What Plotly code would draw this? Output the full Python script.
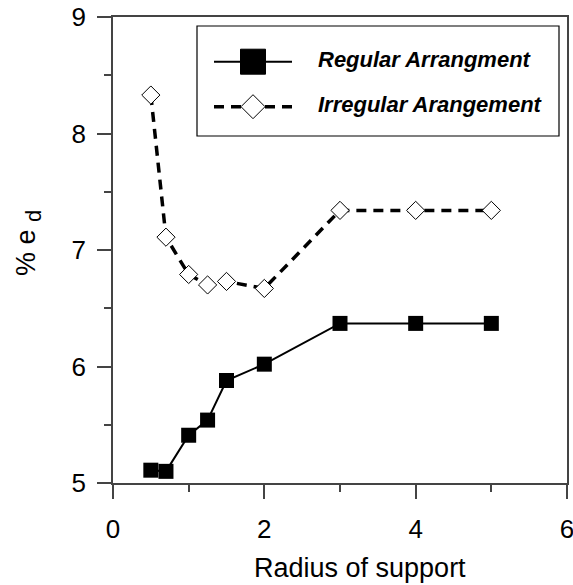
import plotly.graph_objects as go

# ---- data ----
radius_regular = [0.5, 0.7, 1.0, 1.25, 1.5, 2.0, 3.0, 4.0, 5.0]
ed_regular = [5.11, 5.10, 5.41, 5.54, 5.88, 6.02, 6.37, 6.37, 6.37]

radius_irregular = [0.5, 0.7, 1.0, 1.25, 1.5, 2.0, 3.0, 4.0, 5.0]
ed_irregular = [8.33, 7.11, 6.79, 6.70, 6.73, 6.67, 7.34, 7.34, 7.34]

series_names = ["Regular Arrangment", "Irregular Arangement"]
x_title = "Radius of support"
y_title = "% e <sub><span style='font-size:22px'>d</span></sub>"

# ---- layout geometry ----
W, H = 573, 585
L, R, T, B = 113, 6, 17, 102
PW = W - L - R
PH = H - T - B


def px_x(px):
    return (px - L) / PW


def px_y(py):
    return (H - B - py) / PH


FONT = "Liberation Sans, Arial, sans-serif"

fig = go.Figure()
fig.add_trace(go.Scatter(
    x=radius_regular, y=ed_regular, mode="lines+markers",
    name=series_names[0],
    line=dict(color="black", width=2),
    marker=dict(symbol="square", size=15, color="black"),
    showlegend=False,
))
fig.add_trace(go.Scatter(
    x=radius_irregular, y=ed_irregular, mode="lines+markers",
    name=series_names[1],
    line=dict(color="black", width=3.5, dash="10px,7px"),
    marker=dict(symbol="diamond", size=14, color="white",
                line=dict(color="black", width=1)),
    showlegend=False,
))

axis_common = dict(
    showline=True, linecolor="#444", linewidth=1.5, mirror=True,
    ticks="outside", ticklen=14, tickwidth=1.5, tickcolor="#444",
    showgrid=False, zeroline=False, automargin=False,
    ticklabeloverflow="allow",
    tickfont=dict(family=FONT, size=26, color="black"),
)

fig.update_xaxes(range=[0, 6], tick0=0, dtick=2,
                 minor=dict(dtick=1, ticks="outside", ticklen=7,
                            tickcolor="#444", tickwidth=1.5),
                 ticklabelstandoff=8, **axis_common)
fig.update_yaxes(range=[5, 9], tick0=5, dtick=1,
                 minor=dict(dtick=0.5, ticks="outside", ticklen=7,
                            tickcolor="#444", tickwidth=1.5),
                 ticklabelstandoff=6, **axis_common)

shapes = []
annotations = []

# axis titles
annotations.append(dict(text=x_title, xref="paper", yref="paper",
                        x=px_x(360), y=px_y(568), showarrow=False,
                        xanchor="center", yanchor="middle",
                        font=dict(family=FONT, size=27, color="black")))
annotations.append(dict(text=y_title, xref="paper", yref="paper",
                        x=px_x(28), y=px_y(243), showarrow=False,
                        textangle=-90, xanchor="center", yanchor="middle",
                        font=dict(family=FONT, size=27, color="black")))

# custom legend box
shapes.append(dict(type="rect", xref="paper", yref="paper",
                   x0=px_x(197), x1=px_x(559), y0=px_y(136), y1=px_y(26),
                   line=dict(color="black", width=1.2), fillcolor="white",
                   layer="above"))

rows = [61.7, 106.7]
# row 1: solid line + filled square
shapes.append(dict(type="line", xref="paper", yref="paper",
                   x0=px_x(214), x1=px_x(292), y0=px_y(rows[0]), y1=px_y(rows[0]),
                   line=dict(color="black", width=2), layer="above"))
s = 12.5
shapes.append(dict(type="rect", xref="paper", yref="paper",
                   x0=px_x(253 - s), x1=px_x(253 + s),
                   y0=px_y(rows[0] + s), y1=px_y(rows[0] - s),
                   line=dict(color="black", width=1), fillcolor="black",
                   layer="above"))
# row 2: dashed line + open diamond
shapes.append(dict(type="line", xref="paper", yref="paper",
                   x0=px_x(214), x1=px_x(292), y0=px_y(rows[1]), y1=px_y(rows[1]),
                   line=dict(color="black", width=3.5, dash="10px,7px"),
                   layer="above"))
d = 12
cx, cy = 253, rows[1]
path = "M {} {} L {} {} L {} {} L {} {} Z".format(
    px_x(cx - d), px_y(cy), px_x(cx), px_y(cy - d),
    px_x(cx + d), px_y(cy), px_x(cx), px_y(cy + d))
shapes.append(dict(type="path", xref="paper", yref="paper", path=path,
                   line=dict(color="black", width=1), fillcolor="white",
                   layer="above"))

for name, ry in zip(series_names, [60, 104]):
    annotations.append(dict(text="<b><i>" + name + "</i></b>",
                            xref="paper", yref="paper",
                            x=px_x(316), y=px_y(ry), showarrow=False,
                            xanchor="left", yanchor="middle",
                            font=dict(family=FONT, size=22, color="black")))

fig.update_layout(
    width=W, height=H,
    margin=dict(l=L, r=R, t=T, b=B, pad=0, autoexpand=False),
    paper_bgcolor="white", plot_bgcolor="white",
    shapes=shapes, annotations=annotations,
    showlegend=False,
)

fig.write_html("out.html")
